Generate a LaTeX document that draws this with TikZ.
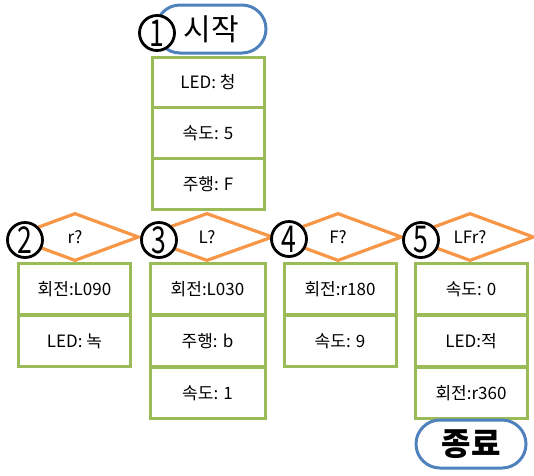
\documentclass[tikz,border=0pt]{standalone}
\usepackage{fontspec}
\setmainfont{Noto Sans CJK KR}
\usetikzlibrary{shapes.geometric}
\definecolor{bgreen}{HTML}{9BBB59}
\definecolor{borange}{HTML}{F79646}
\definecolor{bblue}{HTML}{4F81BD}
\begin{document}
\begin{tikzpicture}[x=1pt,y=-1pt,
 cell/.style={draw=bgreen, line width=3pt, minimum width=112pt, minimum height=51pt, inner sep=0pt, font=\fontsize{17}{17}\selectfont},
 cond/.style={diamond, draw=borange, line width=3.2pt, minimum height=48pt, inner sep=0pt, font=\fontsize{17}{17}\selectfont},
 term/.style={draw=bblue, line width=3pt, rounded corners=24pt, minimum width=110pt, minimum height=48pt, inner sep=0pt},
 num/.style={circle, draw=black, line width=2.8pt, fill=white, minimum size=35pt, inner sep=0pt, font=\fontsize{37}{37}\selectfont}]
\useasboundingbox (0,0) rectangle (534,475);
% start
\node[term, font=\fontsize{30}{30}\selectfont] (start) at (211,29) {\hspace*{0pt}시작};
\node[cell, minimum height=50pt] (t1) at (208,82) {LED: 청};
\node[cell] (t2) at (208,133) {속도: 5};
\node[cell] (t3) at (208,184) {주행: F};
% diamonds
\node[cond, minimum width=128pt] (d2) at (75,237) {r?};
\node[cond, minimum width=132pt] (d3) at (207,237) {L?};
\node[cond, minimum width=128pt] (d4) at (338,237) {F?};
\node[cond, minimum width=128pt] (d5) at (470,237) {LFr?};
% column A
\node[cell] (a1) at (74.5,289) {회전:L090};
\node[cell] (a2) at (74.5,341) {LED: 녹};
% column B
\node[cell, minimum width=115pt] (b1) at (207.5,289) {회전:L030};
\node[cell, minimum width=115pt] (b2) at (207.5,341) {주행: b};
\node[cell, minimum width=115pt] (b3) at (207.5,393) {속도: 1};
% column C
\node[cell] (c1) at (340,289) {회전:r180};
\node[cell] (c2) at (340,341) {속도: 9};
% column D
\node[cell] (e1) at (471,289) {속도: 0};
\node[cell] (e2) at (471,341) {LED:적};
\node[cell] (e3) at (471,393) {회전:r360};
% end
\node[term, font=\fontsize{32}{32}\selectfont\bfseries] (end) at (471,444) {종료};
% numbers
\node[num] (n1) at (157,33) {\scalebox{0.72}[1]{1}};
\node[num] (n2) at (25,240) {\scalebox{0.72}[1]{2}};
\node[num] (n3) at (159,240) {\scalebox{0.72}[1]{3}};
\node[num] (n4) at (289,239) {\scalebox{0.72}[1]{4}};
\node[num] (n5) at (421,240) {\scalebox{0.72}[1]{5}};
\end{tikzpicture}
\end{document}
